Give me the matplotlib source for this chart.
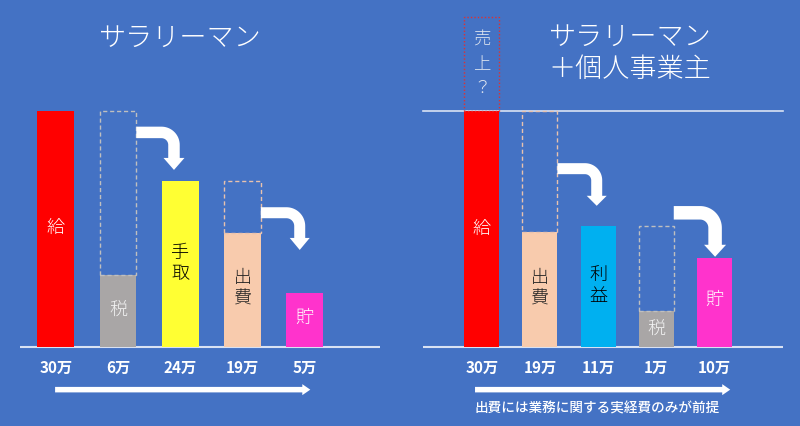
import matplotlib
matplotlib.use("Agg")
import matplotlib.pyplot as plt
from matplotlib.patches import Polygon
import numpy as np

plt.rcParams['font.family'] = ['Noto Sans CJK JP', 'DejaVu Sans']

BG = '#4472C4'

# ---- data ----
left_title = 'サラリーマン'
left_cats = ['給', '税', '手取', '出費', '貯']
left_heights = [30, 9.1, 21.1, 14.45, 6.86]
left_values = ['30万', '6万', '24万', '19万', '5万']
left_colors = ['#FF0000', '#A9A6A6', '#FFFF33', '#F8CBAD', '#FF33CC']
left_text_colors = ['white', '#F2F2F2', 'black', '#222222', 'white']
left_label_y = [15.1, 4.74, 10.57, 7.5, 3.69]

right_title = 'サラリーマン\n＋個人事業主'
right_cats = ['給', '出費', '利益', '税', '貯']
right_heights = [30, 14.6, 15.36, 4.52, 11.3]
right_values = ['30万', '19万', '11万', '1万', '10万']
right_colors = ['#FF0000', '#F8CBAD', '#00B0F0', '#A9A6A6', '#FF33CC']
right_text_colors = ['white', '#222222', 'black', '#F2F2F2', 'white']
right_label_y = [15.0, 7.5, 7.8, 2.32, 5.92]
sales_label = '売上？'
sales_top = 42
footnote = '出費には業務に関する実経費のみが前提'

W, H, DPI = 800, 426, 100
fig = plt.figure(figsize=(W / DPI, H / DPI), dpi=DPI, facecolor=BG)

YLIM = (-10.05, 44.1)
axL = fig.add_axes([0, 0, 0.5, 1])
axR = fig.add_axes([0.5, 0, 0.5, 1])
axL.set_xlim(-0.895, 5.531)
axR.set_xlim(-1.404, 5.469)
for ax in (axL, axR):
    ax.set_ylim(*YLIM)
    ax.set_facecolor(BG)
    ax.axis('off')


def scales(ax):
    x0, x1 = ax.get_xlim()
    y0, y1 = ax.get_ylim()
    bb = ax.get_position()
    sx = W * bb.width / (x1 - x0)
    sy = H * bb.height / (y1 - y0)
    return sx, sy


def bent_arrow(ax, xs, xc, ys, ytip, t=11, hw=21, hl=12, rc=12.5):
    sx, sy = scales(ax)
    h = t / 2
    X0 = (xs - xc) * sx
    Yt = (ytip - ys) * sy
    Yh = Yt + hl
    pts = [(X0, h), (-rc, h)]
    for a in np.linspace(np.pi / 2, 0, 20):
        pts.append((-rc + (rc + h) * np.cos(a), -rc + (rc + h) * np.sin(a)))
    pts += [(h, Yh), (hw / 2, Yh), (0, Yt), (-hw / 2, Yh), (-h, Yh)]
    for a in np.linspace(0, np.pi / 2, 20):
        pts.append((-rc + (rc - h) * np.cos(a), -rc + (rc - h) * np.sin(a)))
    pts.append((X0, -h))
    pts = [(xc + px / sx, ys + py / sy) for px, py in pts]
    ax.add_patch(Polygon(pts, closed=True, facecolor='white', edgecolor='none', zorder=5))


def straight_arrow(ax, xa, xb, y, t=5.5, hw=11, hl=8):
    sx, sy = scales(ax)
    h = t / 2
    L = (xb - xa) * sx
    pts = [(0, h), (L - hl, h), (L - hl, hw / 2), (L, 0), (L - hl, -hw / 2), (L - hl, -h), (0, -h)]
    pts = [(xa + px / sx, y + py / sy) for px, py in pts]
    ax.add_patch(Polygon(pts, closed=True, facecolor='white', edgecolor='none', zorder=5))


def draw_panel(ax, cats, heights, values, colors, tcols, ly, width, base_ext):
    x = np.arange(len(cats))
    ax.plot(base_ext, [0, 0], color='#D9E2F3', lw=1.5, zorder=1, solid_capstyle='butt')
    ax.bar(x, heights, width=width, color=colors, zorder=2)
    for xi, c, tc, yy in zip(x, cats, tcols, ly):
        ax.text(xi, yy, '\n'.join(c), ha='center', va='center', color=tc,
                fontsize=13, fontweight='light', linespacing=1.2, zorder=6)
    for xi, v in zip(x, values):
        ax.text(xi, -2.7, v, ha='center', va='center', color='white', fontsize=11,
                fontweight='bold', zorder=6)
    return x


# ---- left panel ----
wl = 0.59
xl = draw_panel(axL, left_cats, left_heights, left_values, left_colors,
                left_text_colors, left_label_y, wl, [-0.574, 5.21])
axL.bar(xl[1], left_heights[0] - left_heights[1], bottom=left_heights[1], width=wl,
        fill=False, edgecolor='#BFBFBF', linestyle=(0, (3, 2)), lw=1, zorder=3)
axL.bar(xl[3], left_heights[2] - left_heights[3], bottom=left_heights[3], width=wl,
        fill=False, edgecolor='#E8C2AE', linestyle=(0, (3, 2)), lw=1, zorder=3)
axL.text(2, 39.3, left_title, ha='center', va='center', color='white', fontsize=19.5,
         fontweight='light')
bent_arrow(axL, xl[1] + wl / 2, 1.90, 27.27, 22.5, t=11.5, hw=21, hl=12, rc=12.5)
bent_arrow(axL, xl[3] + wl / 2, 3.92, 17.06, 12.33, t=11, hw=20, hl=12, rc=13.3)
straight_arrow(axL, -0.01, 4.09, -5.43)

# ---- right panel ----
wr = 0.6
xr = draw_panel(axR, right_cats, right_heights, right_values, right_colors,
                right_text_colors, right_label_y, wr, [-1.009, 5.177])
axR.plot([-1.009, 5.177], [right_heights[0]] * 2, color='#D9E2F3', lw=1.2, zorder=1)
axR.bar(xr[0], sales_top - right_heights[0], bottom=right_heights[0], width=wr,
        fill=False, edgecolor='#E03030', linestyle=(0, (1, 1.5)), lw=1, zorder=3)
axR.text(xr[0], 36.0, '\n'.join(sales_label), ha='center', va='center',
         color='#E0E6F0', fontsize=12.5, fontweight='light', linespacing=1.45, zorder=6)
axR.bar(xr[1], right_heights[0] - right_heights[1], bottom=right_heights[1], width=wr,
        fill=False, edgecolor='#E8C2AE', linestyle=(0, (3, 2)), lw=1, zorder=3)
axR.bar(xr[3], right_heights[2] - right_heights[3], bottom=right_heights[3], width=wr,
        fill=False, edgecolor='#BFBFBF', linestyle=(0, (3, 2)), lw=1, zorder=3)
axR.text(2.55, 37.4, right_title, ha='center', va='center', color='white',
         fontsize=19.5, fontweight='light', linespacing=1.2)
bent_arrow(axR, xr[1] + wr / 2, 1.976, 22.66, 17.94, t=11, hw=20, hl=10, rc=11.7)
bent_arrow(axR, xr[3] + wr / 2, 4.01, 17.05, 11.46, t=13.5, hw=22, hl=12, rc=15)
straight_arrow(axR, -0.115, 4.27, -5.43)
axR.text(1.976, -7.83, footnote, ha='center', va='center', color='white', fontsize=9.8,
         fontweight='medium')

fig.savefig('out.png', dpi=DPI, facecolor=BG)
